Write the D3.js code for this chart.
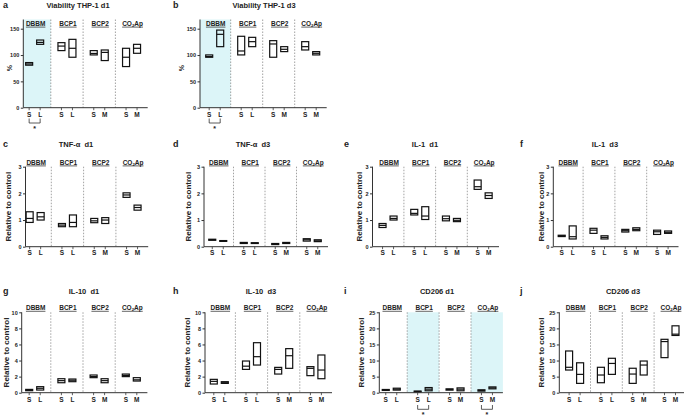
<!DOCTYPE html>
<html>
<head>
<meta charset="utf-8">
<script src="https://cdn.jsdelivr.net/npm/d3@7"></script>
<style>
body{margin:0;background:#fff}
text{font-family:"Liberation Sans",Arial,sans-serif;fill:#222}
</style>
</head>
<body>
<svg id="fig" width="684" height="416"></svg>
<script>
// ---------------- data ----------------
var groups = ["DBBM","BCP1","BCP2","CO2Ap"];
var subLabels = [["S","L"],["S","L"],["S","M"],["S","M"]];

// each bar: [min, line, max]  order: DBBM S, DBBM L, BCP1 S, BCP1 L, BCP2 S, BCP2 M, CO2Ap S, CO2Ap M
var viabD1 = [[80.7,83,85.7],[120.3,124,128.5],[108.4,117,123.5],[95.8,112.8,129.8],[100.2,103,108.4],[89.5,105,109.6],[78.1,95.8,112.8],[103.3,112.8,120.3]];
var viabD3 = [[95.8,97,100.2],[115.9,139.3,147.4],[100.2,107.7,135.6],[115.9,125.4,133.6],[95.8,121,127.3],[106.5,110.9,115.9],[109.6,115.9,125.4],[100.2,103.3,106.5]];
var tnfD1 = [[0.91,1.06,1.31],[1.0,1.12,1.28],[0.75,0.81,0.87],[0.75,0.91,1.19],[0.9,0.97,1.06],[0.87,1.0,1.09],[1.85,1.94,2.02],[1.37,1.47,1.56]];
var tnfD3 = [[0.24,0.26,0.28],[0.2,0.21,0.23],[0.12,0.14,0.16],[0.12,0.13,0.15],[0.08,0.1,0.12],[0.12,0.14,0.16],[0.21,0.26,0.3],[0.19,0.22,0.26]];
var il1D1 = [[0.72,0.8,0.87],[1.0,1.06,1.15],[1.19,1.25,1.4],[1.02,1.15,1.5],[0.97,1.05,1.15],[0.94,0.99,1.06],[2.15,2.25,2.5],[1.81,1.92,2.02]];
var il1D3 = [[0.38,0.41,0.43],[0.29,0.375,0.78],[0.5,0.62,0.69],[0.29,0.35,0.41],[0.55,0.6,0.65],[0.6,0.65,0.71],[0.46,0.56,0.62],[0.5,0.54,0.59]];
var il10D1 = [[0.25,0.3,0.41],[0.33,0.55,0.75],[1.24,1.5,1.74],[1.37,1.55,1.7],[1.87,2.0,2.2],[1.24,1.5,1.74],[2.0,2.15,2.32],[1.45,1.6,1.87]];
var il10D3 = [[1.08,1.41,1.66],[1.16,1.24,1.37],[2.9,3.3,3.94],[3.44,4.48,6.22],[2.32,2.9,3.15],[3.03,4.6,5.48],[2.12,3.03,3.24],[1.74,2.82,4.69]];
var cd206D1 = [[0.7,0.85,1.0],[0.8,1.1,1.4],[0.3,0.4,0.5],[0.6,1.1,1.6],[0.8,1.0,1.2],[0.6,1.1,1.5],[0.5,0.7,0.9],[1.2,1.5,1.8]];
var cd206D3 = [[7.05,7.9,12.97],[2.9,5.7,9.3],[3.1,5.5,7.9],[5.7,9.1,10.7],[2.9,5.8,7.6],[5.5,8.6,9.85],[10.9,15.9,16.6],[17.8,18.2,20.8]];

var ticksViab = [0,50,100,150];
var ticks3 = [0,1,2,3];
var ticks10 = [0,2,4,6,8,10];
var ticks25 = [0,5,10,15,20,25];

var shadeA = ["DBBM"], shadeI = ["BCP1","CO2Ap"];

// ---------------- layout ----------------
var rows = [
  {y0:107.7, yTop:28.7, plotTop:19.5, titleY:7.6, groupY:25.8, subY:117, brTop:118.5, brBot:123, starY:131},
  {y0:246.7, yTop:166.7, plotTop:166.7, titleY:147, groupY:164.6, subY:254.7},
  {y0:392.7, yTop:312.3, plotTop:312.3, titleY:294, groupY:310, subY:402.2, brTop:405, brBot:409.3, starY:416.5}
];

var panels = [
  {id:"a", title:"Viability THP-1 d1", data:viabD1, ticks:ticksViab, ylab:"%", row:0, x0:18.5, bw:32.3, axis:23.3, tx:78, lx:3, yx:10, shade:shadeA, sig:shadeA},
  {id:"b", title:"Viability THP-1 d3", data:viabD3, ticks:ticksViab, ylab:"%", row:0, x0:198.7, bw:32, axis:200, tx:264, lx:173, yx:182, shade:shadeA, sig:shadeA},
  {id:"c", title:"TNF-\u03b1  d1", data:tnfD1, ticks:ticks3, ylab:"Relative to control", row:1, x0:19, bw:32.3, axis:25.5, tx:76, lx:3, yx:8},
  {id:"d", title:"TNF-\u03b1  d3", data:tnfD3, ticks:ticks3, ylab:"Relative to control", row:1, x0:202, bw:31.5, axis:204, tx:253, lx:173, yx:188},
  {id:"e", title:"IL-1  d1", data:il1D1, ticks:ticks3, ylab:"Relative to control", row:1, x0:372.2, bw:31.7, axis:372.5, tx:425, lx:344, yx:359},
  {id:"f", title:"IL-1  d3", data:il1D3, ticks:ticks3, ylab:"Relative to control", row:1, x0:551.3, bw:31.8, axis:553.3, tx:605, lx:520, yx:541},
  {id:"g", title:"IL-10  d1", data:il10D1, ticks:ticks10, ylab:"Relative to control", row:2, x0:18.6, bw:32.2, axis:21.7, tx:84, lx:3, yx:6},
  {id:"h", title:"IL-10  d3", data:il10D3, ticks:ticks10, ylab:"Relative to control", row:2, x0:203.2, bw:32.2, axis:205, tx:261, lx:173, yx:187},
  {id:"i", title:"CD206 d1", data:cd206D1, ticks:ticks25, ylab:"Relative to control", row:2, x0:375.3, bw:31.9, axis:379.3, tx:437, lx:344, yx:361, shade:shadeI, sig:shadeI},
  {id:"j", title:"CD206 d3", data:cd206D3, ticks:ticks25, ylab:"Relative to control", row:2, x0:558.7, bw:31.8, axis:559.3, tx:623, lx:520, yx:541.5}
];

var svg = d3.select("#fig");

function drawPanel(p){
  var r = rows[p.row];
  var g = svg.append("g").attr("id","panel-"+p.id);
  var x = d3.scaleBand().domain(groups).range([p.x0, p.x0 + 4*p.bw]);
  var sub = d3.scalePoint().domain([0,1]).range([-5.5,5.5]);
  var ymax = p.ticks[p.ticks.length-1];
  var y = d3.scaleLinear().domain([0,ymax]).range([r.y0, r.yTop]);
  var xEnd = p.x0 + 4*p.bw;
  var xpos = function(i){ return x(groups[Math.floor(i/2)]) + x.bandwidth()/2 + sub(i%2); };

  // shaded groups
  (p.shade || []).forEach(function(gr){
    var left = Math.max(x(gr), p.axis);
    g.append("rect").attr("x", left).attr("y", r.plotTop)
      .attr("width", x(gr) + x.bandwidth() - left).attr("height", r.y0 - r.plotTop)
      .attr("fill", "#dcf5f8");
  });

  // dashed separators
  groups.slice(1).forEach(function(gr){
    g.append("line").attr("x1", x(gr)).attr("x2", x(gr))
      .attr("y1", r.plotTop).attr("y2", r.y0)
      .attr("stroke", "#8a8a8a").attr("stroke-width", 0.8).attr("stroke-dasharray", "1.5,1.5");
  });

  // y axis
  var yAxis = d3.axisLeft(y).tickValues(p.ticks).tickSize(2.5).tickPadding(1.5).tickFormat(d3.format("d"));
  var ga = g.append("g").attr("transform", "translate(" + p.axis + ",0)").call(yAxis);
  ga.select(".domain").attr("d", "M0," + r.plotTop + "V" + r.y0).attr("stroke", "#333").attr("stroke-width", 1);
  ga.selectAll(".tick line").attr("stroke", "#333");
  ga.selectAll(".tick text").style("font-size", "5.5px").style("font-weight", "bold").attr("fill", "#333");

  // x axis
  g.append("line").attr("x1", p.axis).attr("x2", xEnd).attr("y1", r.y0).attr("y2", r.y0)
    .attr("stroke", "#333").attr("stroke-width", 1);
  d3.range(8).forEach(function(i){
    var xx = xpos(i);
    g.append("line").attr("x1", xx).attr("x2", xx).attr("y1", r.y0).attr("y2", r.y0 + 2.5)
      .attr("stroke", "#333").attr("stroke-width", 0.8);
    g.append("text").attr("x", xx).attr("y", r.subY).attr("text-anchor", "middle")
      .style("font-size", "6.5px").style("font-weight", "bold")
      .text(subLabels[Math.floor(i/2)][i%2]);
  });

  // group labels, underlined
  groups.forEach(function(gr){
    var cx = x(gr) + x.bandwidth()/2 + 1;
    var t = g.append("text").attr("x", cx).attr("y", r.groupY).attr("text-anchor", "middle")
      .style("font-size", "6.5px").style("font-weight", "bold");
    if (gr === "CO2Ap"){
      t.append("tspan").text("CO");
      t.append("tspan").attr("dy", 1.2).style("font-size", "4.3px").text("2");
      t.append("tspan").attr("dy", -1.2).text("Ap");
    } else {
      t.text(gr);
    }
    var w = t.node().getComputedTextLength();
    g.append("line").attr("x1", cx - w/2).attr("x2", cx + w/2)
      .attr("y1", r.groupY + 1.3).attr("y2", r.groupY + 1.3)
      .attr("stroke", "#222").attr("stroke-width", 0.7);
  });

  // floating bars
  g.selectAll("g.bar").data(p.data).enter().append("g").attr("class", "bar")
    .each(function(d, i){
      var b = d3.select(this), xx = xpos(i);
      b.append("rect").attr("x", xx - 3.5).attr("y", y(d[2]))
        .attr("width", 7).attr("height", Math.max(y(d[0]) - y(d[2]), 0.6))
        .attr("fill", "none").attr("stroke", "#111").attr("stroke-width", 1.2);
      b.append("line").attr("x1", xx - 3.5).attr("x2", xx + 3.5)
        .attr("y1", y(d[1])).attr("y2", y(d[1]))
        .attr("stroke", "#111").attr("stroke-width", 1.2);
    });

  // significance brackets
  (p.sig || []).forEach(function(gr){
    var gi = groups.indexOf(gr);
    var xa = xpos(gi*2), xb = xpos(gi*2 + 1);
    g.append("path").attr("d", "M" + xa + "," + r.brTop + "V" + r.brBot + "H" + xb + "V" + r.brTop)
      .attr("fill", "none").attr("stroke", "#333").attr("stroke-width", 0.8);
    g.append("text").attr("x", (xa + xb)/2).attr("y", r.starY).attr("text-anchor", "middle")
      .style("font-size", "7px").style("font-weight", "bold").text("*");
  });

  // y label
  var ymid = (r.y0 + r.yTop)/2;
  g.append("text").attr("transform", "translate(" + p.yx + "," + ymid + ") rotate(-90)")
    .attr("text-anchor", "middle").attr("dy", "0.35em")
    .style("font-size", p.ylab === "%" ? "7px" : "8px").style("font-weight", "bold")
    .text(p.ylab);

  // title and panel letter
  g.append("text").attr("x", p.tx).attr("y", r.titleY).attr("text-anchor", "middle")
    .style("font-size", "7.5px").style("font-weight", "bold").style("white-space", "pre")
    .text(p.title);
  g.append("text").attr("x", p.lx).attr("y", r.titleY).style("font-size", "9px").style("font-weight", "bold")
    .text(p.id);
}

panels.forEach(drawPanel);
</script>
</body>
</html>
